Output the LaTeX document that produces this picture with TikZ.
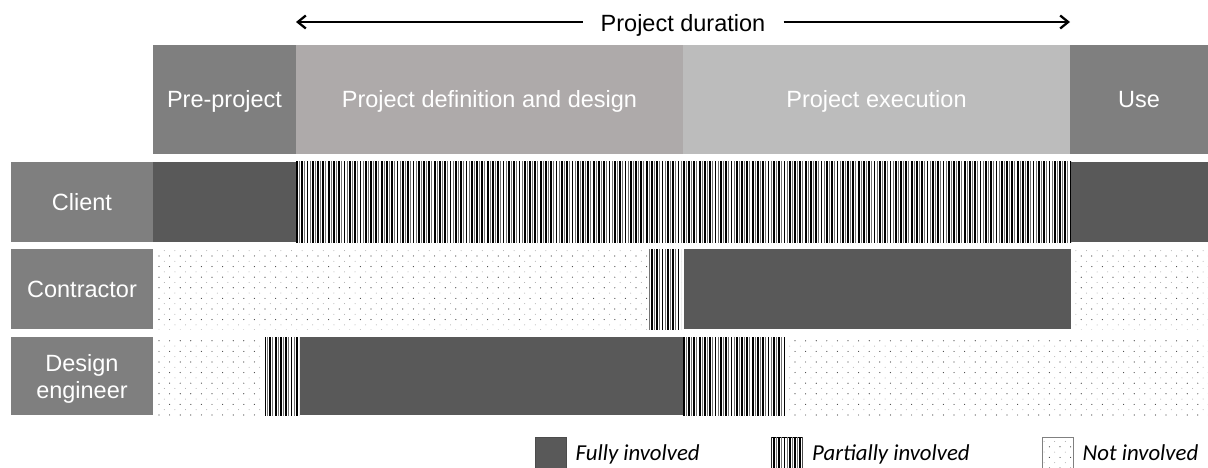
\documentclass[tikz,border=0pt]{standalone}
\usepackage{fontspec}
\setmainfont{Liberation Sans}
\newfontfamily\legendfont{Carlito}
\usetikzlibrary{arrows.meta,patterns.meta}
\definecolor{dark}{HTML}{595959}
\definecolor{midgrey}{HTML}{7F7F7F}
\definecolor{defgrey}{HTML}{AEAAAA}
\definecolor{exegrey}{HTML}{BCBCBC}
\tikzset{
  cell/.style={anchor=north west, inner sep=0pt, outer sep=0pt},
  bigtext/.style={font=\fontsize{23.5}{27}\selectfont},
  hdr/.style={cell, bigtext, text=white, minimum height=109pt, text height=17pt, text depth=0pt},
  lbl/.style={cell, bigtext, fill=midgrey, text=white, minimum width=142pt, text height=17pt, text depth=0pt},
  full/.style={cell, fill=dark},
  part/.style={cell, pattern={Lines[angle=90,distance=5.3pt,line width=1.8pt]}, pattern color=black,
     postaction={pattern={Lines[angle=90,distance=5.3pt,line width=1pt,xshift=2.65pt,yshift=2.65pt]}, pattern color=black!55}},
  none/.style={cell, pattern={Dots[distance=10.6pt,radius=0.6pt]}, pattern color=black!75,
     postaction={pattern={Dots[distance=10.6pt,radius=0.5pt,xshift=5.3pt,yshift=5.3pt]}, pattern color=black!35}},
  legtext/.style={anchor=west, inner sep=0pt, font=\legendfont\itshape\fontsize{22.8}{28}\selectfont, text height=15pt, text depth=0pt},
  legbox/.style={minimum width=31pt, minimum height=31pt, line width=0.6pt},
  durarrow/.style={line width=2.3pt}
}
\begin{document}
\begin{tikzpicture}[x=1pt,y=-1pt]
\useasboundingbox (0,0) rectangle (1208,468);
% duration arrow
\coordinate (al) at (296,22);
\coordinate (ar) at (1070,22);
\node[bigtext, fill=white, inner xsep=18pt, inner ysep=0pt, text height=17pt, text depth=0pt] (dur) at (683,23.5) {Project duration};
\draw[durarrow, {Straight Barb[length=8pt,width=13pt]}-] (al) -- (al -| dur.west);
\draw[durarrow, -{Straight Barb[length=8pt,width=13pt]}] (ar -| dur.east) -- (ar);
% header
\node[hdr, fill=midgrey, minimum width=143pt] (hpre) at (153,45) {Pre-project};
\node[hdr, fill=defgrey, minimum width=387pt] (hdef) at (296,45) {Project definition and design};
\node[hdr, fill=exegrey, minimum width=387pt] (hexe) at (683,45) {Project execution};
\node[hdr, fill=midgrey, minimum width=138pt] (huse) at (1070,45) {Use};
% client row
\node[lbl, minimum height=80pt] (lclient) at (11,162) {Client};
\node[full, minimum width=143pt, minimum height=80pt] (c1) at (153,162) {};
\node[part, minimum width=775pt, minimum height=80pt] (c2) at (296,162) {};
\node[full, minimum width=137pt, minimum height=80pt] (c3) at (1071,162) {};
% contractor row
\node[lbl, minimum height=80pt] (lcon) at (11,249) {Contractor};
\node[none, minimum width=493pt, minimum height=80pt] (k1) at (155,249) {};
\node[part, minimum width=33pt, minimum height=80pt] (k2) at (648,249) {};
\node[full, minimum width=387pt, minimum height=80pt] (k3) at (684,249) {};
\node[none, minimum width=136pt, minimum height=80pt] (k4) at (1072,249) {};
% design engineer row
\node[lbl, minimum height=78pt] (lde) at (11,337) {};
\node[bigtext, text=white, align=center, inner sep=0pt] (detext) at (82,378.5) {Design\\engineer};
\node[none, minimum width=109pt, minimum height=78pt] (d1) at (155,337) {};
\node[part, minimum width=34pt, minimum height=78pt] (d2) at (265,337) {};
\node[full, minimum width=383pt, minimum height=78pt] (d3) at (300,337) {};
\node[part, minimum width=102pt, minimum height=78pt] (d4) at (683,337) {};
\node[none, minimum width=422pt, minimum height=78pt] (d5) at (786,337) {};
% legend
\node[full, legbox, draw=black!70] (lgfull) at (535,437.5) {};
\node[legtext] (lgfullt) at ([xshift=9.5pt]lgfull.east) {Fully involved};
\node[part, legbox, draw=black] (lgpart) at (771.5,437.5) {};
\node[legtext] (lgpartt) at ([xshift=9.5pt]lgpart.east) {Partially involved};
\node[none, legbox, draw=black!50] (lgnone) at (1042,437.5) {};
\node[legtext] (lgnonet) at ([xshift=9.5pt]lgnone.east) {Not involved};
\end{tikzpicture}
\end{document}
